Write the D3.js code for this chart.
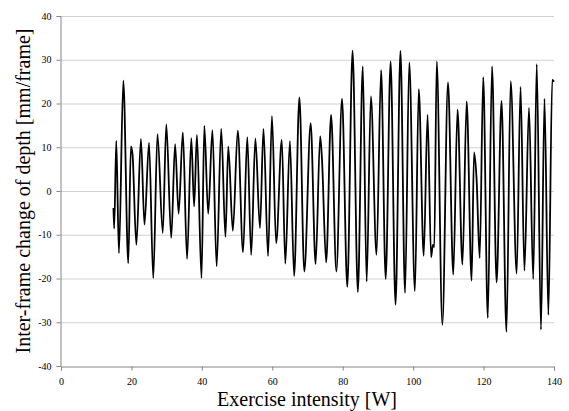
<!DOCTYPE html>
<html>
<head>
<meta charset="utf-8">
<script src="https://cdn.jsdelivr.net/npm/d3@7"></script>
<style>
  body { margin: 0; background: #fff; }
  svg { display: block; }
</style>
</head>
<body>
<div id="viz"></div>
<script>
// extrema of the trace (x in W, y in mm/frame)
const intensity = [14.9, 15.1, 15.7, 16.45, 17.7, 19.1, 19.85, 20.3, 21.4, 22.7, 23.7, 25, 26.2, 27.4, 28.9, 29.9,
  31.3, 32.4, 33.4, 34.6, 35.8, 37, 37.8, 38.6, 39.9, 40.7, 41.8, 43, 44.2, 45.5, 46.7, 47.5,
  48.8, 50.2, 51.7, 52.9, 54, 55.2, 56.5, 57.5, 58.8, 59.9, 61.1, 62.7, 63.7, 65, 66.2, 67.7,
  69.1, 70.9, 72.3, 73.6, 74.1, 75.3, 76.7, 78.2, 79.8, 81.3, 82.8, 84.3, 85.7, 86.8, 88, 89.6,
  90.9, 92.2, 93.6, 95, 96.4, 97.7, 98.9, 100.5, 101.6, 103, 104.1, 105.1, 105.6, 106, 106.7, 108.3,
  109.9, 111.4, 112.6, 114, 115.2, 116.6, 117.3, 118, 118.9, 119.9, 121.2, 122.4, 123.7, 125.1, 126.5, 127.7,
  129.4, 130.5, 131.6, 132.9, 134.1, 135.1, 136.3, 137.3, 138.4, 139.5, 140];
const depthChange = [-3.9, -8.6, 11.5, -14.2, 25.2, -16.5, 10.2, 8.5, -12.3, 11.9, -7.7, 11, -19.9, 13, -9.6, 15.2,
  -10.7, 10.7, -5.2, 13.4, -15.5, 12.1, -3.5, 12.8, -19.9, 14.9, -5.2, 13.9, -17.2, 14.2, -10.5, 10.2,
  -9.1, 13.8, -14, 12.3, -14.6, 12, -8.5, 14.2, -14.9, 17.1, -11.9, 11.7, -16.6, 11.4, -19.4, 21.4,
  -18.4, 15.5, -16.7, 12.5, 7.5, -16.3, 17.4, -18.4, 21.1, -21.9, 32.1, -23.1, 28.5, -20.7, 21.6, -14.6,
  27.6, -20.1, 29.6, -26, 32, -23.3, 29.4, -22.9, 23.3, -14.8, 17.4, -15.1, -12.3, -12.8, 29.6, -30.6,
  24.8, -19.1, 18.6, -16.8, 20.5, -20.5, 8.8, 3, -15.3, 26, -29, 28.5, -20.9, 20.6, -32.2, 25.1,
  -18.9, 23.8, -18.2, 19, -20.1, 29, -31.7, 21.1, -28.3, 25.4, 25];
const xTicks = [0, 20, 40, 60, 80, 100, 120, 140];
const yTicks = [-40, -30, -20, -10, 0, 10, 20, 30, 40];

const width = 569, height = 411;
const margin = {top: 16, right: 15, bottom: 45, left: 61};
const serif = "'Liberation Serif', 'Times New Roman', serif";

const svg = d3.select("#viz").append("svg")
    .attr("width", width)
    .attr("height", height)
    .attr("font-family", serif);

const x = d3.scaleLinear().domain([0, 140]).range([margin.left, width - margin.right]);
const y = d3.scaleLinear().domain([-40, 40]).range([height - margin.bottom, margin.top]);

// horizontal gridlines
svg.append("g")
    .attr("stroke", "#d0d0d0")
    .selectAll("line")
    .data(yTicks.filter(d => d !== -40))
    .enter().append("line")
    .attr("x1", x(0)).attr("x2", x(140))
    .attr("y1", d => y(d) + 0.5).attr("y2", d => y(d) + 0.5);

const xAxis = svg.append("g")
    .attr("transform", `translate(0,${y(-40) + 0.5})`)
    .call(d3.axisBottom(x).tickValues(xTicks).tickFormat(d => String(d)).tickSize(4).tickPadding(7));
const yAxis = svg.append("g")
    .attr("transform", `translate(${x(0) - 0.5},0)`)
    .call(d3.axisLeft(y).tickValues(yTicks).tickFormat(d => String(d)).tickSize(4).tickPadding(5));

[xAxis, yAxis].forEach(a => {
  a.attr("font-family", serif).attr("font-size", 10);
  a.select(".domain").attr("stroke", "#868686");
  a.selectAll(".tick line").attr("stroke", "#868686");
  a.selectAll("text").attr("fill", "#000");
});

const line = d3.line()
    .x((d, i) => x(intensity[i]))
    .y(d => y(d))
    .curve(d3.curveMonotoneX);

svg.append("path")
    .datum(depthChange)
    .attr("fill", "none")
    .attr("stroke", "#000")
    .attr("stroke-width", 1.8)
    .attr("stroke-linejoin", "round")
    .attr("d", line);

svg.append("text")
    .attr("x", 307)
    .attr("y", 406)
    .attr("text-anchor", "middle")
    .attr("font-size", 20)
    .text("Exercise intensity [W]");

svg.append("text")
    .attr("transform", `translate(30,${(y(40) + y(-40)) / 2}) rotate(-90)`)
    .attr("text-anchor", "middle")
    .attr("font-size", 20)
    .text("Inter-frame change of depth [mm/frame]");
</script>
</body>
</html>
